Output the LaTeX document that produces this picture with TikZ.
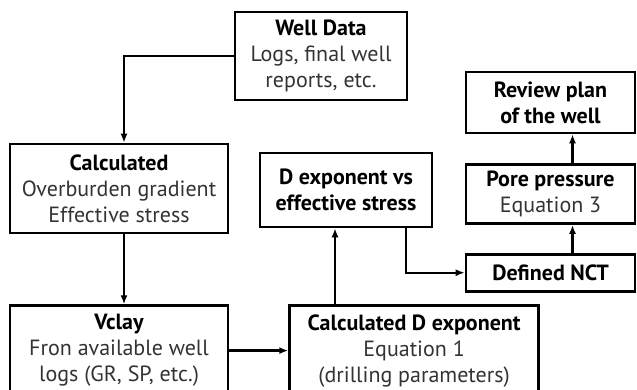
\documentclass[tikz,border=0pt]{standalone}
\usepackage{fontspec}
\setmainfont{PT Sans}
\usetikzlibrary{positioning,arrows.meta}

\newcommand{\ttl}[1]{{\color{black}\bfseries #1}}

\begin{document}
\begin{tikzpicture}[x=1pt,y=-1pt,
	box/.style={draw,line width=2.6pt,inner sep=0pt,align=center,text=black!80,font=\fontsize{22}{26}\selectfont},
	flow/.style={line width=2.4pt,-{Latex[length=9pt,width=7pt]}}]
		\useasboundingbox (0,0) rectangle (637,389);
		\clip (0,0) rectangle (637,389);

		\node[box,minimum width=172pt,minimum height=88pt] at (321,56)			(0)	{\ttl{Well Data}\\Logs, final well\\reports, etc.};
		\node[box,minimum width=218pt,minimum height=89pt] at (119,188.5)		(1)	{\ttl{Calculated}\\Overburden gradient\\Effective stress};
		\node[box,minimum width=218pt,minimum height=90pt,below=70pt of 1]	(2)	{\ttl{Vclay}\\Fron available well\\logs (GR, SP, etc.)};
		\node[box,minimum width=249pt,minimum height=90pt,right=59pt of 2]	(3)	{\ttl{Calculated D exponent}\\Equation 1\\(drilling parameters)};
		\node[box,minimum width=172pt,minimum height=74pt] at (346,190)			(4)	{\ttl{D exponent vs}\\\ttl{effective stress}};
		\node[box,minimum width=169pt,minimum height=61pt] at (550.5,102.5)	(5)	{\ttl{Review plan}\\\ttl{of the well}};
		\node[box,minimum width=169pt,minimum height=59pt,below=29pt of 5]	(6)	{\ttl{Pore pressure}\\Equation 3};
		\node[box,minimum width=169pt,minimum height=37pt,below=28pt of 6]	(7)	{\ttl{Defined NCT}};

		\draw[flow]	(0.west)	-|	([xshift=5pt]1.north);
		\draw[flow]	([xshift=5pt]1.south)	--	([xshift=5pt]2.north);
		\draw[flow]	(2.east)	--	(3.west);
		\draw[flow]	([xshift=-11pt]4.south |- 3.north)	--	([xshift=-11pt]4.south);
		\draw[flow]	([xshift=60pt]4.south)	|-	(7.west);
		\draw[flow]	([xshift=22pt]7.north)	--	([xshift=22pt]6.south);
		\draw[flow]	([xshift=22pt]6.north)	--	([xshift=22pt]5.south);
	\end{tikzpicture}
\end{document}
